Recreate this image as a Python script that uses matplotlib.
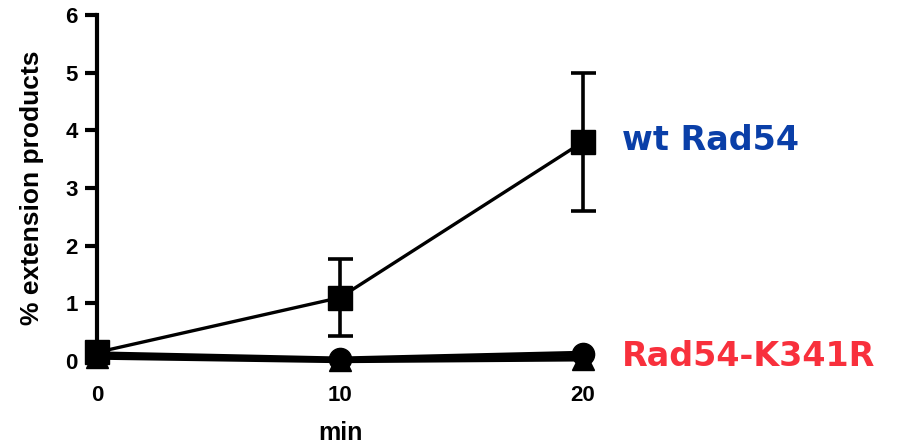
import matplotlib
matplotlib.use('Agg')
import matplotlib.pyplot as plt

# time points (min)
times = [0, 10, 20]

# wt Rad54
wtMeans = [0.15, 1.1, 3.8]
wtErr = [0.08, 0.67, 1.2]

# Rad54-K341R and controls (overlapping at the bottom)
mutMeans = [0.12, 0.03, 0.13]
ctrlMeans = [0.07, 0.01, 0.04]

yTicks = [0, 1, 2, 3, 4, 5, 6]
xTicks = [0, 10, 20]

plt.rcParams['font.family'] = ['Liberation Sans', 'DejaVu Sans']

fig = plt.figure(figsize=(8.99, 4.46), dpi=100)
ax = fig.add_axes([97/899, 85/446, 486/899, 346/446])

ax.plot(times, ctrlMeans, '-^', color='black', lw=4, ms=16, clip_on=False, zorder=3)
ax.plot(times, mutMeans, '-o', color='black', lw=4, ms=16, clip_on=False, zorder=3)
ax.errorbar(times, wtMeans, yerr=wtErr, fmt='-s', color='black', lw=2.4, ms=17,
            elinewidth=2.6, capsize=9, capthick=2.6, clip_on=False, zorder=4)

ax.set_xlim(0, 20)
ax.set_ylim(0, 6)
ax.set_xticks(xTicks)
ax.set_yticks(yTicks)
ax.spines['top'].set_visible(False)
ax.spines['right'].set_visible(False)
ax.spines['bottom'].set_visible(False)
ax.spines['left'].set_linewidth(3)
ax.tick_params(axis='y', width=3, length=9, labelsize=16, pad=5)
ax.tick_params(axis='x', length=0, labelsize=16, pad=17)
for lab in ax.get_xticklabels() + ax.get_yticklabels():
    lab.set_fontweight('bold')

ax.set_xlabel('min', fontsize=18, fontweight='bold', labelpad=11)
ax.set_ylabel('% extension products', fontsize=19, fontweight='bold', labelpad=15)

ax.text(21.6, 3.83, 'wt Rad54', color='#0a3fa8', fontsize=24, fontweight='bold',
        family='DejaVu Sans', va='center', ha='left', clip_on=False)
ax.text(21.6, 0.07, 'Rad54-K341R', color='#f8303c', fontsize=24, fontweight='bold',
        family='DejaVu Sans', va='center', ha='left', clip_on=False)

fig.savefig('out.png', dpi=100)
